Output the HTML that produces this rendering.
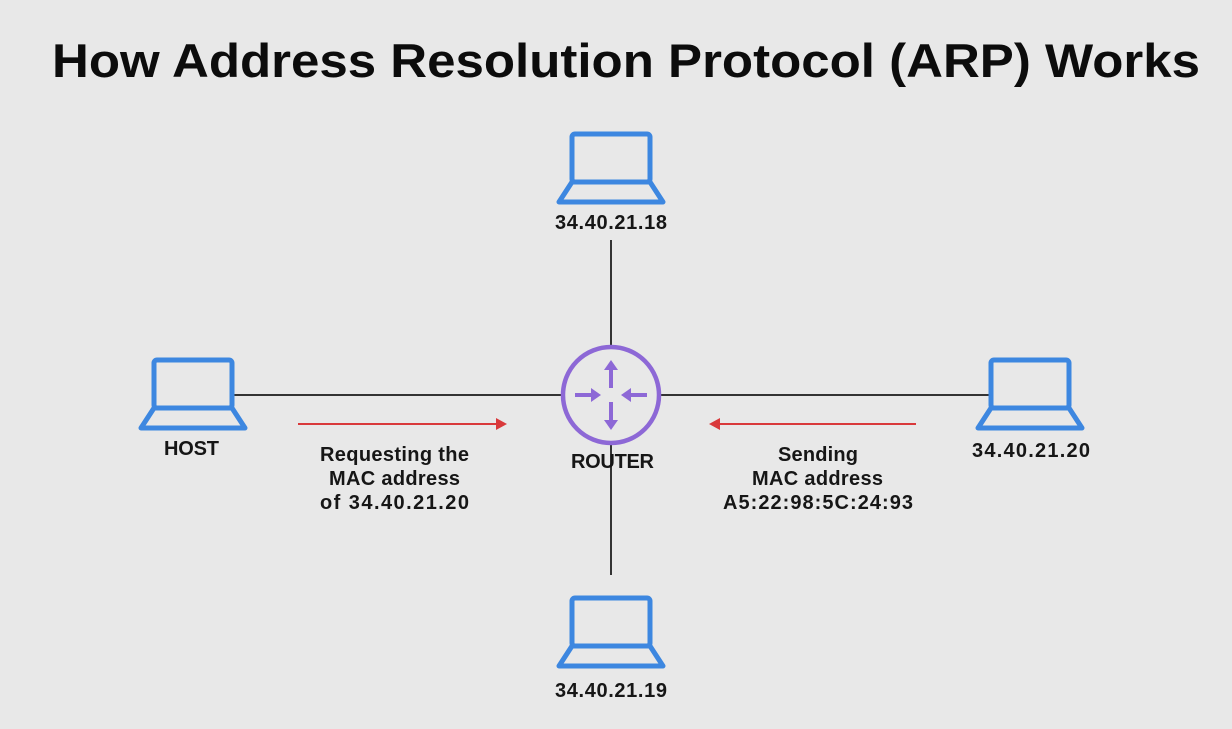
<!DOCTYPE html>
<html><head><style>
body{margin:0;width:1232px;height:724px;background:#e8e8e8;overflow:hidden;font-family:"Liberation Sans",sans-serif;}
</style></head><body>
<svg width="1232" height="724" xmlns="http://www.w3.org/2000/svg" font-family="Liberation Sans, sans-serif" font-weight="bold">
<defs>
<g id="lap">
<rect x="-38" y="-24" width="78" height="48" fill="none" stroke="#3d87e0" stroke-width="5" rx="3"/>
<path d="M-38 24 L40 24 L53 44 L-51 44 Z" fill="none" stroke="#3d87e0" stroke-width="5" stroke-linejoin="round"/>
</g>
</defs>
<text x="52" y="77" font-size="47" fill="#0c0c0c" textLength="1148" lengthAdjust="spacingAndGlyphs">How Address Resolution Protocol (ARP) Works</text>
<g stroke="#333" stroke-width="2">
<line x1="611" y1="240" x2="611" y2="347"/>
<line x1="611" y1="443" x2="611" y2="575"/>
<line x1="234" y1="395" x2="563" y2="395"/>
<line x1="659" y1="395" x2="990" y2="395"/>
</g>
<use href="#lap" x="192" y="384"/>
<use href="#lap" x="610" y="158"/>
<use href="#lap" x="610" y="622"/>
<use href="#lap" x="1029" y="384"/>
<circle cx="611" cy="395" r="48" fill="none" stroke="#8d68d6" stroke-width="4.5"/>
<g stroke="#8d68d6" stroke-width="4" fill="#8d68d6">
<line x1="611" y1="388" x2="611" y2="368"/><path d="M604 370 L611 360 L618 370Z" stroke="none"/>
<line x1="611" y1="402" x2="611" y2="422"/><path d="M604 420 L611 430 L618 420Z" stroke="none"/>
<line x1="575" y1="395" x2="593" y2="395"/><path d="M591 388 L601 395 L591 402Z" stroke="none"/>
<line x1="647" y1="395" x2="629" y2="395"/><path d="M631 388 L621 395 L631 402Z" stroke="none"/>
</g>
<g stroke="#d9393b" stroke-width="2" fill="#d9393b">
<line x1="298" y1="424" x2="498" y2="424"/><path d="M496 418 L507 424 L496 430Z" stroke="none"/>
<line x1="916" y1="424" x2="718" y2="424"/><path d="M720 418 L709 424 L720 430Z" stroke="none"/>
</g>
<g font-size="20" fill="#161616" lengthAdjust="spacingAndGlyphs">
<text x="164" y="455" textLength="55">HOST</text>
<text x="555" y="229" textLength="112">34.40.21.18</text>
<text x="555" y="697" textLength="112">34.40.21.19</text>
<text x="972" y="457" textLength="118">34.40.21.20</text>
<text x="571" y="468" textLength="83">ROUTER</text>
<text x="320" y="461" textLength="149">Requesting the</text>
<text x="329" y="485" textLength="131">MAC address</text>
<text x="320" y="509" textLength="149">of 34.40.21.20</text>
<text x="778" y="461" textLength="80">Sending</text>
<text x="752" y="485" textLength="131">MAC address</text>
<text x="723" y="509" textLength="190">A5:22:98:5C:24:93</text>
</g>
</svg>
</body></html>
